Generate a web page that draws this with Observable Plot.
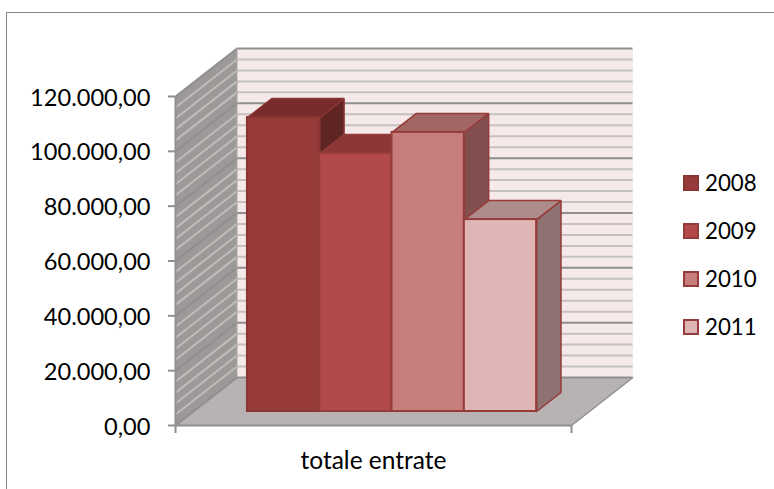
<!DOCTYPE html>
<html>
<head>
<meta charset="utf-8">
<script src="https://cdn.jsdelivr.net/npm/d3@7"></script>
<script src="https://cdn.jsdelivr.net/npm/@observablehq/plot@0.6"></script>
<style>
  html, body { margin: 0; padding: 0; background: #fff; }
  #chart { position: relative; width: 774px; height: 489px; font-family: Lato, sans-serif; color: #000; overflow: hidden; }
  #frame { position: absolute; left: 6px; top: 12px; width: 800px; height: 490px; border: 1.5px solid #868686; box-sizing: border-box; }
  #legend { position: absolute; left: 683px; top: 175px; }
  .entry { position: absolute; left: 0; height: 16px; width: 80px; }
  .swatch { position: absolute; left: 0; top: 0; width: 16px; height: 16px; box-sizing: border-box; border: 2px solid; }
  .name { position: absolute; left: 22px; top: -5px; font-size: 22.3px; line-height: 26px; }
</style>
</head>
<body>
<div id="chart">
  <div id="frame"></div>
  <div id="legend"></div>
</div>
<script>
const category = "totale entrate";
const years = ["2008", "2009", "2010", "2011"];
const values = [107200, 94100, 101800, 70000];
const frontColors = ["#963b39", "#b14a48", "#c77d7c", "#e0b5b5"];
const topColors = ["#772c2b", "#8b3737", "#a26664", "#ac8d8b"];
const sideColors = ["#5f2523", "#6f2c2b", "#824f4e", "#8e7272"];
const strokeColors = ["#8a3533", "#953c3a", "#953c3a", "#953c3a"];
const majorTicks = [0, 20000, 40000, 60000, 80000, 100000, 120000];
const minorTicks = [4000, 8000, 12000, 16000, 24000, 28000, 32000, 36000, 44000, 48000, 52000, 56000, 64000, 68000, 72000, 76000, 84000, 88000, 92000, 96000, 104000, 108000, 112000, 116000];

// 3D projection, expressed in the units of the x and y scales
const DX = 61.5 / 396, DY = 48 * 120000 / 329;
const gap = 54 / 396, barW = 72.3 / 396, d0 = 14 / 48, d1 = 33 / 48;
const px = (x, d) => x + d * DX, py = (v, d) => v + d * DY;

const face = (pts, fill, stroke, strokeWidth) =>
  Plot.line([...pts, pts[0]], {fill, stroke, strokeWidth, strokeLinejoin: "miter"});

const fmt = v => d3.format(",.2f")(v).replace(/[.,]/g, c => (c === "," ? "." : ","));

const wallGray = "#8f8f8f", minorBack = "#c4c1bf", minorSide = "#bfbdbb";

const barMarks = years.flatMap((yr, i) => {
  const x0 = gap + i * barW, x1 = x0 + barW, v = values[i];
  const p = (x, val, d) => [px(x, d), py(val, d)];
  return [
    face([p(x1, 0, d0), p(x1, 0, d1), p(x1, v, d1), p(x1, v, d0)], sideColors[i], strokeColors[i], 1.5),
    face([p(x0, v, d0), p(x1, v, d0), p(x1, v, d1), p(x0, v, d1)], topColors[i], strokeColors[i], 1.5),
    Plot.rect([{x1: px(x0, d0), x2: px(x1, d0), y1: py(0, d0), y2: py(v, d0), year: yr}], {
      x1: "x1", x2: "x2", y1: "y1", y2: "y2", fill: "year", stroke: strokeColors[i], strokeWidth: 2
    })
  ];
});

const plot = Plot.plot({
  width: 774, height: 489,
  marginLeft: 175, marginRight: 203, marginTop: 96, marginBottom: 64,
  style: {background: "transparent", fontFamily: "Lato, sans-serif", color: "#000", position: "absolute", left: 0, top: 0},
  x: {domain: [0, 1], axis: null},
  y: {domain: [0, 120000], axis: null},
  color: {domain: years, range: frontColors},
  marks: [
    // back wall, left wall, floor
    face([[DX, DY], [1 + DX, DY], [1 + DX, 120000 + DY], [DX, 120000 + DY]], "#f5e9e9", "none", 0),
    face([[0, 0], [DX, DY], [DX, 120000 + DY], [0, 120000]], "#9d9998", "none", 0),
    face([[0, 0], [1, 0], [1 + DX, DY], [DX, DY]], "#b9b2b2", "none", 0),
    // gridlines
    Plot.ruleY(minorTicks, {y: d => d + DY, x1: DX, x2: 1 + DX, stroke: minorBack, strokeWidth: 2}),
    Plot.ruleY(majorTicks, {y: d => d + DY, x1: DX, x2: 1 + DX, stroke: wallGray, strokeWidth: 2}),
    Plot.link(minorTicks, {x1: 0, y1: d => d, x2: DX, y2: d => d + DY, stroke: minorSide, strokeWidth: 2}),
    Plot.link(majorTicks, {x1: 0, y1: d => d, x2: DX, y2: d => d + DY, stroke: wallGray, strokeWidth: 2}),
    Plot.link([0], {x1: 1, y1: 0, x2: 1 + DX, y2: DY, stroke: wallGray, strokeWidth: 1.5}),
    Plot.ruleX([DX], {y1: DY, y2: 120000 + DY, stroke: "#aaa7a6", strokeWidth: 1}),
    ...barMarks,
    // axes
    Plot.ruleY([0], {x1: 0, x2: 1, stroke: wallGray, strokeWidth: 2}),
    Plot.ruleX([0], {y1: 0, y2: 120000, stroke: wallGray, strokeWidth: 2}),
    Plot.axisY({ticks: majorTicks, tickSize: 7, tickFormat: () => "", stroke: wallGray, strokeWidth: 2, label: null}),
    Plot.axisY({
      ticks: majorTicks, tickFormat: fmt, tickSize: 0, tickPadding: 25, dy: 1.5,
      fontSize: 23.6, label: null, textStroke: "none"
    }),
    Plot.axisX({ticks: [0, 1], tickSize: 8, tickFormat: () => "", stroke: wallGray, strokeWidth: 2, label: null}),
    Plot.axisX({ticks: [0.5], tickSize: 0, tickPadding: 26, tickFormat: () => category, fontSize: 24.5, label: null})
  ]
});
document.getElementById("chart").prepend(plot);

const legend = document.getElementById("legend");
years.forEach((yr, i) => {
  const e = document.createElement("div");
  e.className = "entry";
  e.style.top = i * 48 + "px";
  const s = document.createElement("div");
  s.className = "swatch";
  s.style.background = frontColors[i];
  s.style.borderColor = strokeColors[i];
  const t = document.createElement("div");
  t.className = "name";
  t.textContent = yr;
  e.append(s, t);
  legend.append(e);
});
</script>
</body>
</html>
